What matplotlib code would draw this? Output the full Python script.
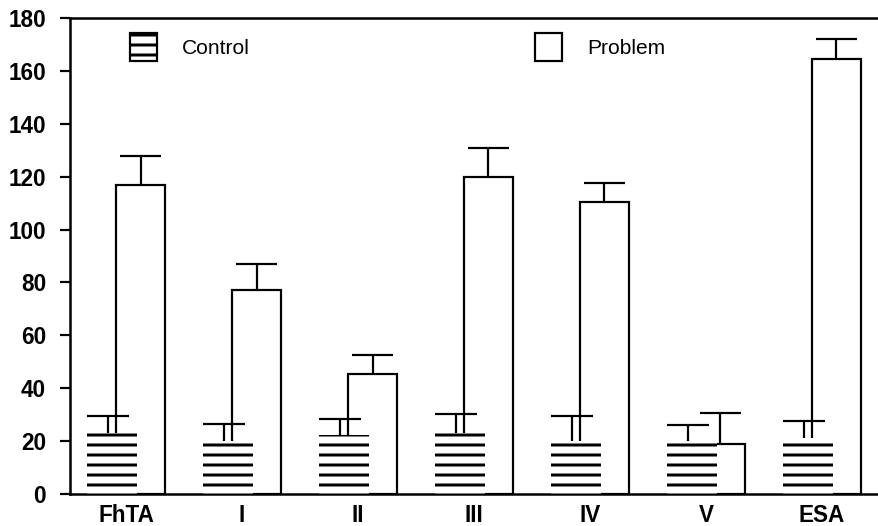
import matplotlib
matplotlib.use('Agg')
import matplotlib.pyplot as plt
from matplotlib.patches import Patch
import numpy as np

# ---- data ----
categories = ['FhTA', 'I', 'II', 'III', 'IV', 'V', 'ESA']
control = [23, 20, 22.5, 23, 20, 20, 21]
control_err = [6.4, 6.4, 6.0, 7.2, 9.4, 6.0, 6.5]
problem = [117, 77, 45.5, 120, 110.5, 19, 164.5]
problem_err = [10.7, 10.0, 7.0, 11.0, 7.0, 11.6, 7.6]
yticks = [0, 20, 40, 60, 80, 100, 120, 140, 160, 180]
legend_labels = ['Control', 'Problem']

# ---- style ----
DPI = 60
W, H = 878, 526


def pt(px):
    return px * 72.0 / DPI


plt.rcParams['font.family'] = ['Liberation Sans', 'DejaVu Sans']
plt.rcParams['hatch.linewidth'] = pt(3)

fig = plt.figure(figsize=(W / DPI, H / DPI), dpi=DPI)
ax = fig.add_axes([70 / W, 32 / H, 808 / W, 476 / H])

x = np.arange(len(categories))
width = 0.43
ctrl_off = -0.12
prob_off = 0.125
stem_shift = -0.035
cap = 0.18
lw = pt(2.2)

control = np.array(control)
problem = np.array(problem)
control_err = np.array(control_err)
problem_err = np.array(problem_err)

ax.bar(x + prob_off, problem, width, color='white', edgecolor='black',
       linewidth=lw, zorder=2)
ax.bar(x + ctrl_off, control, width, color='white', edgecolor='black',
       linewidth=0, hatch='-', zorder=3)

xs_c = x + ctrl_off + stem_shift
ax.vlines(xs_c, control, control + control_err, color='black', lw=lw, zorder=4)
ax.hlines(control + control_err, xs_c - cap, xs_c + cap, color='black', lw=lw, zorder=4)

xs_p = x + prob_off
ax.vlines(xs_p, problem, problem + problem_err, color='black', lw=lw, zorder=4)
ax.hlines(problem + problem_err, xs_p - cap, xs_p + cap, color='black', lw=lw, zorder=4)

ax.set_xlim(-0.483, 6.483)
ax.set_ylim(0, 180)
ax.set_yticks(yticks)
ax.set_yticklabels([str(v) for v in yticks], fontweight='bold')
ax.set_xticks(x)
ax.set_xticklabels(categories, fontweight='bold')

ax.tick_params(axis='y', direction='out', length=pt(10), width=lw,
               pad=pt(14), labelsize=pt(22.5))
ax.tick_params(axis='x', length=0, pad=pt(10), labelsize=pt(22.5))

for s in ['left', 'bottom', 'top']:
    ax.spines[s].set_linewidth(pt(2.5))
ax.spines['right'].set_visible(False)

handles = [Patch(facecolor='white', edgecolor='black', hatch='-', linewidth=lw),
           Patch(facecolor='white', edgecolor='black', linewidth=lw)]
fs = 21
fig.legend(handles, legend_labels, loc='upper left',
           bbox_to_anchor=(130 / W, 1 - 33 / H), ncol=2, frameon=False,
           fontsize=pt(fs), handlelength=27 / fs, handleheight=1.674,
           handletextpad=25 / fs, columnspacing=13.6, borderpad=0,
           borderaxespad=0)

fig.savefig('out.png', dpi=DPI)
